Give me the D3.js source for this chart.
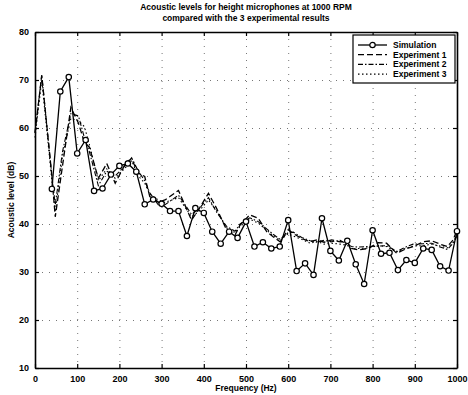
<!DOCTYPE html>
<html>
<head>
<meta charset="utf-8">
<script src="https://cdn.jsdelivr.net/npm/d3@7"></script>
<style>
  body { margin: 0; background: #fff; }
  text { font-family: "Liberation Sans", Arial, sans-serif; fill: #000; }
  .tick_lbl { font-size: 9px; font-weight: bold; }
  .ttl { font-size: 8.5px; font-weight: bold; }
  .axlbl { font-size: 8.5px; font-weight: bold; }
  .leg { font-size: 8.5px; font-weight: bold; }
</style>
</head>
<body>
<div id="chart"></div>
<script>
// simulation, 20 Hz steps
const simFreq = [40, 60, 80, 100, 120, 140, 160, 180, 200, 220, 240, 260, 280, 300,
  320, 340, 360, 380, 400, 420, 440, 460, 480, 500, 520, 540, 560, 580, 600, 620,
  640, 660, 680, 700, 720, 740, 760, 780, 800, 820, 840, 860, 880, 900, 920, 940,
  960, 980, 1000];
const simLevel = [47.3, 67.6, 70.6, 54.7, 57.5, 46.9, 47.4, 50.3, 52.1, 52.6, 50.9,
  44.1, 45.1, 44.2, 42.7, 42.7, 37.5, 43.3, 42.3, 38.4, 35.9, 38.4, 37.1, 40.5,
  35.3, 36.2, 34.9, 35.3, 40.8, 30.2, 31.8, 29.4, 41.2, 34.4, 32.4, 36.5, 31.6,
  27.5, 38.7, 33.8, 34.0, 30.4, 32.5, 31.9, 34.9, 34.6, 31.2, 30.3, 38.5];

const expFreq = [0, 16, 40, 48, 65, 85, 103, 117, 129, 150, 170, 190, 217, 229, 245,
  260, 272, 292, 308, 340, 371, 387, 411, 430, 454, 474, 486, 509, 529, 549, 565,
  581, 600, 612, 632, 652, 668, 685, 703, 723, 739, 750, 766, 789, 813, 833, 857,
  881, 896, 920, 940, 960, 977, 991, 1000];
const exp1 = [59, 71, 50, 41.5, 52, 64.3, 61, 57, 56, 49.5, 52.6, 48.5, 53, 53.5,
  50.6, 49.9, 45.7, 44.6, 45, 47, 40.8, 42.9, 46.4, 43.3, 38.8, 37.7, 39.8, 41.9,
  41.2, 38.4, 37.3, 36.3, 38.8, 38, 37, 36.3, 36.7, 36.2, 36.7, 36.3, 36.3, 34.9,
  34.6, 34.9, 36.1, 36, 33.9, 34.9, 35.3, 36.3, 36.5, 35.8, 35.3, 36.7, 38.8];
const exp2 = [59, 71, 50, 44, 55, 63, 62.5, 58, 55, 48, 51, 50, 52.5, 53.8, 51, 49,
  46.5, 44, 44, 46, 42, 43, 45.5, 42.5, 39.5, 38.5, 40, 41.3, 40.5, 39, 37.8, 36.8,
  38.2, 38.3, 37.2, 36.5, 36.2, 36.6, 36.3, 36.6, 35.8, 35.3, 35.2, 35.3, 35.4,
  35.5, 34.3, 35.3, 35.8, 35.9, 36.0, 35.2, 34.7, 36.0, 37.5];
const exp3 = [58, 70, 49, 42.5, 54, 62, 61.5, 60.3, 56.5, 49, 51.5, 49.5, 52, 53.2,
  50, 48.5, 46.2, 45, 44.5, 45.5, 41.5, 42.5, 45, 42.8, 39.2, 38.2, 39.5, 41, 40.2,
  38.7, 37.5, 36.6, 38, 37.5, 36.8, 36, 36.4, 35.8, 36, 35.8, 35.6, 34.8, 34.9, 35,
  35.5, 35.3, 34.2, 35, 35.4, 35.5, 35.8, 35.4, 35, 36.2, 37.8];

const xTicks = [0, 100, 200, 300, 400, 500, 600, 700, 800, 900, 1000];
const yTicks = [10, 20, 30, 40, 50, 60, 70, 80];
const seriesNames = ["Simulation", "Experiment 1", "Experiment 2", "Experiment 3"];

const W = 468, H = 395;
const margin = {top: 32, right: 11, bottom: 27, left: 35};
const width = W - margin.left - margin.right;
const height = H - margin.top - margin.bottom;

const svg = d3.select("#chart").append("svg")
    .attr("width", W).attr("height", H);

const xScale = d3.scaleLinear().domain([0, 1000]).range([0, width]);
const yScale = d3.scaleLinear().domain([10, 80]).range([height, 0]);

const g = svg.append("g")
    .attr("transform", "translate(" + margin.left + "," + margin.top + ")");

// grid (faint, dotted)
g.append("g")
    .call(d3.axisBottom(xScale).tickValues(xTicks).tickSize(height).tickFormat(""))
    .call(s => s.select(".domain").remove())
    .selectAll("line").attr("stroke", "#777").attr("stroke-dasharray", "1,6");
g.append("g")
    .call(d3.axisLeft(yScale).tickValues(yTicks).tickSize(-width).tickFormat(""))
    .call(s => s.select(".domain").remove())
    .selectAll("line").attr("stroke", "#777").attr("stroke-dasharray", "1,6");

// axes with inward ticks
const fmt = d3.format("d");
const xAx = g.append("g").attr("transform", "translate(0," + height + ")")
    .call(d3.axisBottom(xScale).tickValues(xTicks).tickFormat(fmt)
      .tickSizeInner(-4).tickSizeOuter(0).tickPadding(8));
const xAxTop = g.append("g")
    .call(d3.axisTop(xScale).tickValues(xTicks).tickSizeInner(-4).tickSizeOuter(0).tickFormat(""));
const yAx = g.append("g")
    .call(d3.axisLeft(yScale).tickValues(yTicks).tickFormat(fmt)
      .tickSizeInner(-4).tickSizeOuter(0).tickPadding(6));
const yAxRight = g.append("g").attr("transform", "translate(" + width + ",0)")
    .call(d3.axisRight(yScale).tickValues(yTicks).tickSizeInner(-4).tickSizeOuter(0).tickFormat(""));

[xAx, xAxTop, yAx, yAxRight].forEach(a => {
  a.select(".domain").attr("stroke", "#000").attr("stroke-width", 1.6);
  a.selectAll(".tick line").attr("stroke", "#000").attr("stroke-width", 1.2);
  a.selectAll("text").attr("class", "tick_lbl").attr("font-family", null).attr("font-size", null);
});

const lineGen = d3.line()
    .x(d => xScale(d[0]))
    .y(d => yScale(d[1]));

const styles = [
  {dash: null, width: 1.3},
  {dash: "6,3", width: 1.3},
  {dash: "5,2,1.5,2", width: 1.1},
  {dash: "1.5,2.5", width: 1.1}
];

const expData = [exp1, exp2, exp3].map(v => expFreq.map((f, i) => [f, v[i]]));
const simData = simFreq.map((f, i) => [f, simLevel[i]]);

expData.forEach((d, k) => {
  g.append("path").attr("d", lineGen(d))
      .attr("fill", "none").attr("stroke", "#000")
      .attr("stroke-width", styles[k + 1].width)
      .attr("stroke-dasharray", styles[k + 1].dash);
});

g.append("path").attr("d", lineGen(simData))
    .attr("fill", "none").attr("stroke", "#000").attr("stroke-width", styles[0].width);
g.selectAll("circle.sim").data(simData).enter().append("circle")
    .attr("class", "sim")
    .attr("cx", d => xScale(d[0])).attr("cy", d => yScale(d[1]))
    .attr("r", 2.7).attr("fill", "#fff").attr("stroke", "#000").attr("stroke-width", 1.2);

// legend
const leg = g.append("g").attr("transform", "translate(" + (353 - margin.left) + "," + (35 - margin.top) + ")");
leg.append("rect").attr("width", 102).attr("height", 48)
    .attr("fill", "#fff").attr("stroke", "#000").attr("stroke-width", 1.2);
seriesNames.forEach((name, k) => {
  const yy = 10 + k * 9.7;
  leg.append("line").attr("x1", 5).attr("x2", 34).attr("y1", yy).attr("y2", yy)
      .attr("stroke", "#000").attr("stroke-width", styles[k].width)
      .attr("stroke-dasharray", styles[k].dash);
  if (k == 0) {
    leg.append("circle").attr("cx", 19.5).attr("cy", yy).attr("r", 2.7)
        .attr("fill", "#fff").attr("stroke", "#000").attr("stroke-width", 1.2);
  }
  leg.append("text").attr("class", "leg").attr("x", 40).attr("y", yy + 3).text(name);
});

// titles
svg.append("text").attr("class", "ttl").attr("x", margin.left + width / 2).attr("y", 10)
    .attr("text-anchor", "middle").text("Acoustic levels for height microphones at 1000 RPM");
svg.append("text").attr("class", "ttl").attr("x", margin.left + width / 2).attr("y", 21)
    .attr("text-anchor", "middle").text("compared with the 3 experimental results");
svg.append("text").attr("class", "axlbl").attr("x", margin.left + width / 2).attr("y", 391)
    .attr("text-anchor", "middle").text("Frequency (Hz)");
svg.append("text").attr("class", "axlbl")
    .attr("transform", "translate(14," + (margin.top + height / 2) + ") rotate(-90)")
    .attr("text-anchor", "middle").text("Acoustic level (dB)");
</script>
</body>
</html>
